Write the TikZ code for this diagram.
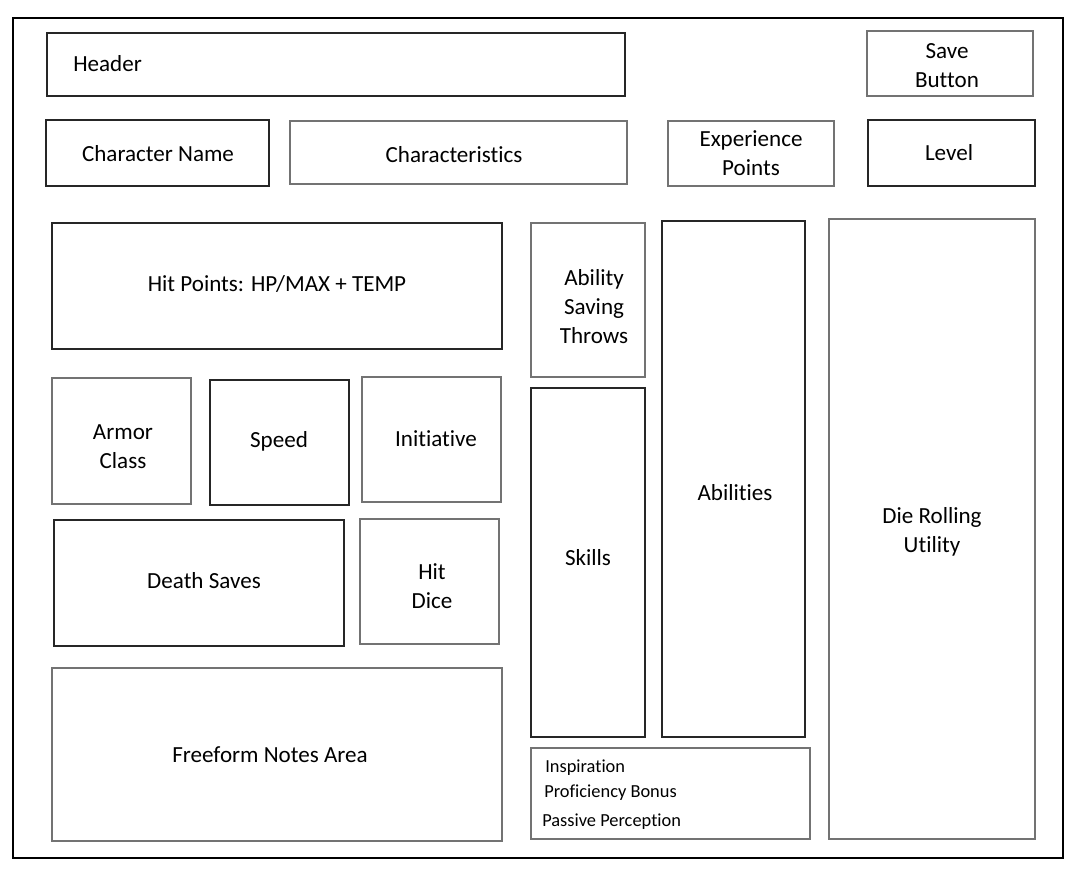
\documentclass[tikz,border=0pt]{standalone}
\usepackage{fontspec}
\setmainfont{Carlito}[RawFeature={-liga;-clig;-calt;-rlig;-dlig}]
\usetikzlibrary{fit}
\begin{document}
\begin{tikzpicture}[x=0.75pt,y=-0.75pt,
  box/.style={draw=black!85,line width=0.8pt,inner sep=0pt},
  gbox/.style={draw=black!55,line width=0.8pt,inner sep=0pt},
  lbl/.style={font=\fontsize{17.3}{21.8}\selectfont,align=center,inner sep=0pt,anchor=center},
  slbl/.style={font=\fontsize{13.8}{16}\selectfont,inner sep=0pt,anchor=west}]
\useasboundingbox (0,0) rectangle (1084,877);
\node[draw=black,line width=1.9pt,inner sep=0pt,fit={(13,18) (1063,858)}] (frame) {};
% boxes
\node[box,fit={(47,33) (625,96)}] (header) {};
\node[gbox,fit={(867,31) (1033,96)}] (save) {};
\node[box,fit={(46,120) (269,186)}] (cname) {};
\node[gbox,fit={(290,121) (627,184)}] (chars) {};
\node[gbox,fit={(668,121) (834,186)}] (xp) {};
\node[box,fit={(868,120) (1035,186)}] (level) {};
\node[box,fit={(52,223) (502,349)}] (hp) {};
\node[gbox,fit={(531,223) (645,377)}] (ast) {};
\node[box,fit={(662,221) (805,737)}] (abil) {};
\node[gbox,fit={(829,219) (1035,839)}] (die) {};
\node[gbox,fit={(52,378) (191,504)}] (ac) {};
\node[box,fit={(210,380) (349,505)}] (speed) {};
\node[gbox,fit={(362,377) (501,502)}] (init) {};
\node[box,fit={(54,520) (344,646)}] (death) {};
\node[gbox,fit={(360,519) (499,644)}] (hitdice) {};
\node[gbox,fit={(52,668) (502,841)}] (notes) {};
\node[box,fit={(531,388) (645,737)}] (skills) {};
\node[gbox,fit={(531,748) (810,839)}] (misc) {};
% labels
\node[lbl,anchor=west] (theader) at (73,64) {Header};
\node[lbl] (tsave) at (947,66) {Save\\Button};
\node[lbl] (tcname) at (158,154) {Character Name};
\node[lbl] (tchars) at (454,155) {Characteristics};
\node[lbl] (txp) at (751,153) {Experience\\Points};
\node[lbl] (tlevel) at (949,153) {Level};
\node[lbl] (thp) at (277,284) {Hit Points: HP/MAX + TEMP};
\node[lbl] (tast) at (594,307) {Ability\\Saving\\Throws};
\node[lbl] (tabil) at (735,493) {Abilities};
\node[lbl] (tdie) at (932,532) {Die Rolling\\Utility};
\node[lbl] (tac) at (123,447) {Armor\\Class};
\node[lbl] (tspeed) at (279,441) {Speed};
\node[lbl] (tinit) at (436,439) {Initiative};
\node[lbl] (tdeath) at (204,581) {Death Saves};
\node[lbl] (thitdice) at (432,586) {Hit\\Dice};
\node[lbl] (tnotes) at (270,755) {Freeform Notes Area};
\node[lbl] (tskills) at (588,558) {Skills};
\node[slbl] (tinsp) at (545,768) {Inspiration};
\node[slbl] (tprof) at (544,793) {Proficiency Bonus};
\node[slbl] (tpass) at (542,822) {Passive Perception};
\end{tikzpicture}
\end{document}
